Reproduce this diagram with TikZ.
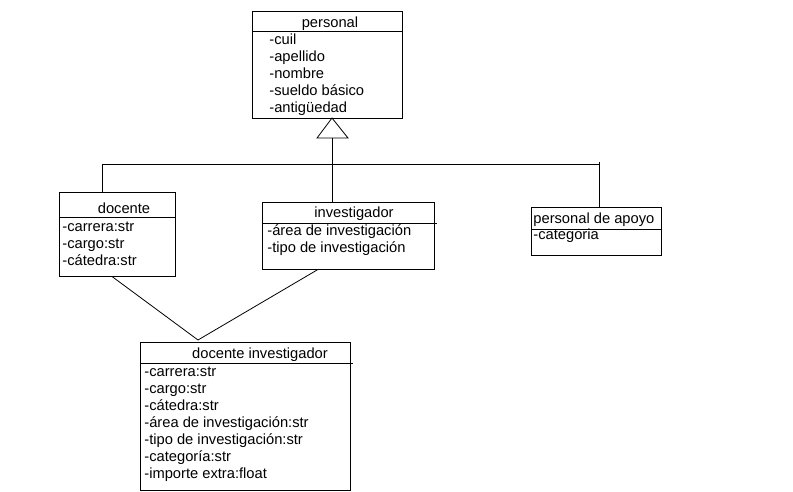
\documentclass[tikz,border=0pt]{standalone}
\usepackage{fontspec}
\setmainfont{Liberation Sans}
\usetikzlibrary{positioning,calc}

\tikzset{
	box/.style={draw,line width=0.8pt,inner sep=0pt,anchor=north west},
	attr/.style={anchor=base west,inner sep=0pt,font=\fontsize{14.7}{17}\selectfont},
	head/.style={anchor=base,inner sep=0pt,font=\fontsize{14.7}{17}\selectfont}
}

\begin{document}
\begin{tikzpicture}[x=1pt,y=-1pt,line width=0.8pt]
	\useasboundingbox (0,0) rectangle (793,492);
	% clases
	\node[box,minimum width=150pt,minimum height=107pt] (personal) at (252,11) {};
	\node[box,minimum width=116pt,minimum height=84pt] (docente) at (59,192) {};
	\node[box,minimum width=172pt,minimum height=67pt] (investigador) at (262,202) {};
	\node[box,minimum width=130pt,minimum height=48pt] (apoyo) at (531,207) {};
	\node[box,minimum width=210pt,minimum height=148pt] (docinv) at (140,342) {};
	% cabeceras
	\draw ([yshift=-20pt]personal.north west)--([yshift=-20pt]personal.north east);
	\draw ([yshift=-25pt]docente.north west)--([yshift=-25pt]docente.north east);
	\draw ([yshift=-21pt]investigador.north west)--([yshift=-21pt,xshift=2pt]investigador.north east);
	\draw ([yshift=-22pt]apoyo.north west)--([yshift=-22pt]apoyo.north east);
	\draw ([yshift=-21pt]docinv.north west)--([yshift=-21pt,xshift=2pt]docinv.north east);
	% textos
	\node[head] (tpersonal) at (330,28) {personal};
	\node[attr] (p1) at (269,45) {-cuil};
	\node[attr] (p2) at (269,62) {-apellido};
	\node[attr] (p3) at (269,79) {-nombre};
	\node[attr] (p4) at (269,96) {-sueldo básico};
	\node[attr] (p5) at (269,113) {-antigüedad};
	\node[head] (tdocente) at (124,214) {docente};
	\node[attr] (d1) at (62,231) {-carrera:str};
	\node[attr] (d2) at (62,248) {-cargo:str};
	\node[attr] (d3) at (62,265) {-cátedra:str};
	\node[head] (tinvestigador) at (354,218) {investigador};
	\node[attr] (i1) at (267,235) {-área de investigación};
	\node[attr] (i2) at (267,252) {-tipo de investigación};
	\node[attr] (tapoyo) at (533,223) {personal de apoyo};
	\node[attr] (a1) at (533,240) {-categoria};
	\node[head] (tdocinv) at (260,358) {docente investigador};
	\node[attr] (di1) at (144,376) {-carrera:str};
	\node[attr] (di2) at (144,393) {-cargo:str};
	\node[attr] (di3) at (144,410) {-cátedra:str};
	\node[attr] (di4) at (144,427) {-área de investigación:str};
	\node[attr] (di5) at (144,444) {-tipo de investigación:str};
	\node[attr] (di6) at (144,461) {-categoría:str};
	\node[attr] (di7) at (144,478) {-importe extra:float};
	% herencia
	\coordinate (apex) at (332,118);
	\coordinate (tb) at (332,138);
	\coordinate (hl) at (102,164);
	\coordinate (hr) at (599,164);
	\draw (apex)--(317,138)--(348,138)--cycle;
	\draw (tb)--(tb |- investigador.north);
	\draw (hl)--(hr);
	\draw (hl)--(hl |- docente.north);
	\draw ([yshift=2pt]hr)--(hr |- apoyo.north);
	% docente investigador
	\coordinate (meet) at (198,340);
	\draw ([xshift=-5pt]docente.south)--(meet);
	\draw ([xshift=-31pt]investigador.south)--(meet);
\end{tikzpicture}
\end{document}
